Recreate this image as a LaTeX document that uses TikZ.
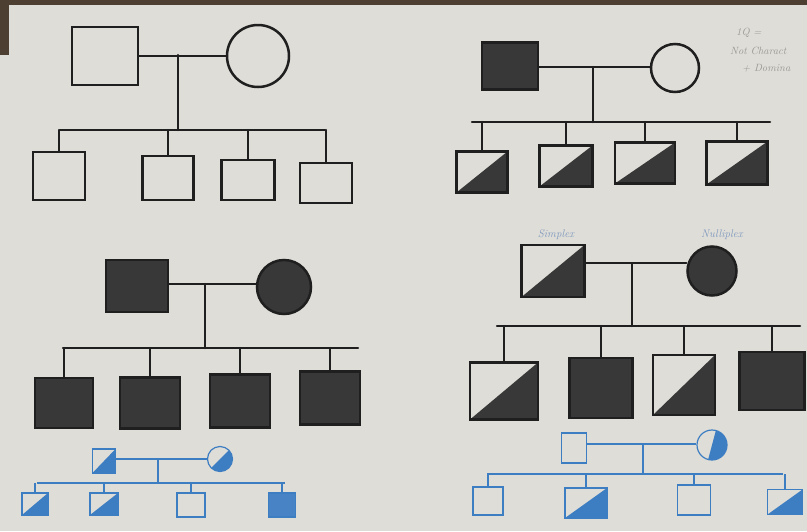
\documentclass[tikz,border=0pt]{standalone}
\usepackage{tikz}
\usetikzlibrary{calc,positioning}
\definecolor{Paper}{HTML}{DFDDD7}
\definecolor{Edge}{HTML}{4E3F33}
\definecolor{Lead}{HTML}{1F1F1F}
\definecolor{Shade}{HTML}{383838}
\definecolor{Crayon}{HTML}{3D7DC2}
\definecolor{Note}{HTML}{7D98C0}
\definecolor{Faint}{HTML}{9A9994}
\tikzset{
  male/.style={rectangle, inner sep=0pt},
  female/.style={circle, inner sep=0pt},
  pencil/.style={draw=Lead, line width=2.5pt},
  crayon/.style={draw=Crayon, line width=1.2pt},
  carrier/.style={path picture={
    \fill[#1] (path picture bounding box.south west) -| (path picture bounding box.north east) -- cycle;}},
  carrier/.default=Shade,
  halfright/.style={path picture={
    \fill[#1] ($(path picture bounding box.north)+(4pt,0)$) -- ($(path picture bounding box.south)+(-4pt,0)$)
      -| (path picture bounding box.north east) -- cycle;}},
  tie/.style={draw=Lead, line width=2.5pt, line cap=round},
  btie/.style={draw=Crayon, line width=1.2pt},
  handnote/.style={text=Note, font=\fontsize{11}{13}\selectfont\itshape, inner sep=0pt},
  scribble/.style={text=Faint, font=\fontsize{10.5}{12}\selectfont\itshape, inner sep=0pt, anchor=west}
}
\begin{document}
\begin{tikzpicture}[x=1pt,y=-1pt]
  \useasboundingbox (0,0) rectangle (807,531);
  \fill[Paper] (0,0) rectangle (807,531);
  \fill[Edge] (0,0) rectangle (807,5);
  \fill[Edge] (0,0) rectangle (9,55);

  % top left: unaffected family
  \node[male,pencil,minimum width=66pt,minimum height=58pt] (f1) at (105,56) {};
  \node[female,pencil,minimum size=62pt] (m1) at (258,56) {};
  \coordinate (t1) at (178,55);
  \coordinate (s1l) at (60,130);
  \coordinate (s1r) at (325,130);
  \node[male,pencil,minimum width=52pt,minimum height=48pt] (c11) at (59,176) {};
  \node[male,pencil,minimum width=51pt,minimum height=44pt] (c12) at (168,178) {};
  \node[male,pencil,minimum width=53pt,minimum height=40pt] (c13) at (248,180) {};
  \node[male,pencil,minimum width=52pt,minimum height=40pt] (c14) at (326,183) {};
  \draw[tie] (f1) -- (m1);
  \draw[tie] (t1) -- (t1 |- s1l);
  \draw[tie] (s1l) -- (s1r);
  \draw[tie] (c11.north) -- (c11.north |- s1l);
  \draw[tie] (c12.north) -- (c12.north |- s1l);
  \draw[tie] (c13.north) -- (c13.north |- s1l);
  \draw[tie] (c14.north) -- (c14.north |- s1l);

  % top right: affected father
  \node[male,pencil,fill=Shade,minimum width=56pt,minimum height=47pt] (f2) at (510,66) {};
  \node[female,pencil,minimum size=48pt] (m2) at (675,68) {};
  \coordinate (t2) at (593,67);
  \coordinate (s2l) at (472,122);
  \coordinate (s2r) at (770,122);
  \node[male,pencil,carrier,minimum width=51pt,minimum height=41pt] (c21) at (482,172) {};
  \node[male,pencil,carrier,minimum width=53pt,minimum height=41pt] (c22) at (566,166) {};
  \node[male,pencil,carrier,minimum width=60pt,minimum height=41pt] (c23) at (645,163) {};
  \node[male,pencil,carrier,minimum width=61pt,minimum height=43pt] (c24) at (737,163) {};
  \draw[tie] (f2.east |- t2) -- (m2.west |- t2);
  \draw[tie] (t2) -- (t2 |- s2l);
  \draw[tie] (s2l) -- (s2r);
  \draw[tie] (c21.north) -- (c21.north |- s2l);
  \draw[tie] (c22.north) -- (c22.north |- s2l);
  \draw[tie] (c23.north) -- (c23.north |- s2l);
  \draw[tie] (c24.north) -- (c24.north |- s2l);
  \node[scribble] (n1) at (736,33) {1Q =};
  \node[scribble] (n2) at (730,51) {Not Charact};
  \node[scribble] (n3) at (742,68) {+ Domina};

  % middle left: both parents affected
  \node[male,pencil,fill=Shade,minimum width=62pt,minimum height=52pt] (f3) at (137,286) {};
  \node[female,pencil,fill=Shade,minimum size=54pt] (m3) at (284,287) {};
  \coordinate (t3) at (205,284);
  \coordinate (s3l) at (63,348);
  \coordinate (s3r) at (358,348);
  \node[male,pencil,fill=Shade,minimum width=58pt,minimum height=50pt] (c31) at (64,403) {};
  \node[male,pencil,fill=Shade,minimum width=60pt,minimum height=51pt] (c32) at (150,403) {};
  \node[male,pencil,fill=Shade,minimum width=60pt,minimum height=53pt] (c33) at (240,401) {};
  \node[male,pencil,fill=Shade,minimum width=60pt,minimum height=53pt] (c34) at (330,398) {};
  \draw[tie] (f3.east |- t3) -- (m3.west |- t3);
  \draw[tie] (t3) -- (t3 |- s3l);
  \draw[tie] (s3l) -- (s3r);
  \draw[tie] (c31.north) -- (c31.north |- s3l);
  \draw[tie] (c32.north) -- (c32.north |- s3l);
  \draw[tie] (c33.north) -- (c33.north |- s3l);
  \draw[tie] (c34.north) -- (c34.north |- s3l);

  % middle right: simplex x nulliplex
  \node[male,pencil,carrier,minimum width=63pt,minimum height=52pt] (f4) at (553,271) {};
  \node[female,pencil,fill=Shade,minimum size=49pt] (m4) at (712,271) {};
  \node[handnote] (simplex) at (556,235) {Simplex};
  \node[handnote] (nulliplex) at (722,235) {Nulliplex};
  \coordinate (t4) at (632,263);
  \coordinate (s4l) at (497,326);
  \coordinate (s4r) at (800,326);
  \node[male,pencil,carrier,minimum width=68pt,minimum height=57pt] (c41) at (504,391) {};
  \node[male,pencil,fill=Shade,minimum width=63pt,minimum height=60pt] (c42) at (601,388) {};
  \node[male,pencil,carrier,minimum width=62pt,minimum height=60pt] (c43) at (684,385) {};
  \node[male,pencil,fill=Shade,minimum width=65pt,minimum height=58pt] (c44) at (772,381) {};
  \draw[tie] (f4.east |- t4) -- (m4.west |- t4);
  \draw[tie] (t4) -- (t4 |- s4l);
  \draw[tie] (s4l) -- (s4r);
  \draw[tie] (c41.north) -- (c41.north |- s4l);
  \draw[tie] (c42.north) -- (c42.north |- s4l);
  \draw[tie] (c43.north) -- (c43.north |- s4l);
  \draw[tie] (c44.north) -- (c44.north |- s4l);

  % bottom left, blue
  \node[male,crayon,carrier=Crayon,minimum width=23pt,minimum height=24pt] (f5) at (104,461) {};
  \node[female,crayon,carrier=Crayon,minimum size=25pt] (m5) at (220,459) {};
  \coordinate (t5) at (158,459);
  \coordinate (s5l) at (37,483);
  \coordinate (s5r) at (285,483);
  \node[male,crayon,carrier=Crayon,minimum width=26pt,minimum height=22pt] (c51) at (35,504) {};
  \node[male,crayon,carrier=Crayon,minimum width=28pt,minimum height=22pt] (c52) at (104,504) {};
  \node[male,crayon,minimum width=28pt,minimum height=24pt] (c53) at (191,505) {};
  \node[male,crayon,fill=Crayon!95,minimum width=27pt,minimum height=24pt] (c54) at (282,505) {};
  \draw[btie] (f5.east |- t5) -- (m5.west |- t5);
  \draw[btie] (t5) -- (t5 |- s5l);
  \draw[btie] (s5l) -- (s5r);
  \draw[btie] (c51.north) -- (c51.north |- s5l);
  \draw[btie] (c52.north) -- (c52.north |- s5l);
  \draw[btie] (c53.north) -- (c53.north |- s5l);
  \draw[btie] (c54.north) -- (c54.north |- s5l);

  % bottom right, blue
  \node[male,crayon,minimum width=25pt,minimum height=30pt] (f6) at (574,448) {};
  \node[female,crayon,halfright=Crayon,minimum size=30pt] (m6) at (712,445) {};
  \coordinate (t6) at (643,444);
  \coordinate (s6l) at (487,474);
  \coordinate (s6r) at (783,474);
  \node[male,crayon,minimum width=30pt,minimum height=28pt] (c61) at (488,501) {};
  \node[male,crayon,carrier=Crayon,minimum width=42pt,minimum height=30pt] (c62) at (586,503) {};
  \node[male,crayon,minimum width=33pt,minimum height=30pt] (c63) at (694,500) {};
  \node[male,crayon,carrier=Crayon,minimum width=35pt,minimum height=25pt] (c64) at (785,502) {};
  \draw[btie] (f6.east |- t6) -- (m6.west |- t6);
  \draw[btie] (t6) -- (t6 |- s6l);
  \draw[btie] (s6l) -- (s6r);
  \draw[btie] (c61.north) -- (c61.north |- s6l);
  \draw[btie] (c62.north) -- (c62.north |- s6l);
  \draw[btie] (c63.north) -- (c63.north |- s6l);
  \draw[btie] (c64.north) -- (c64.north |- s6l);
\end{tikzpicture}
\end{document}
